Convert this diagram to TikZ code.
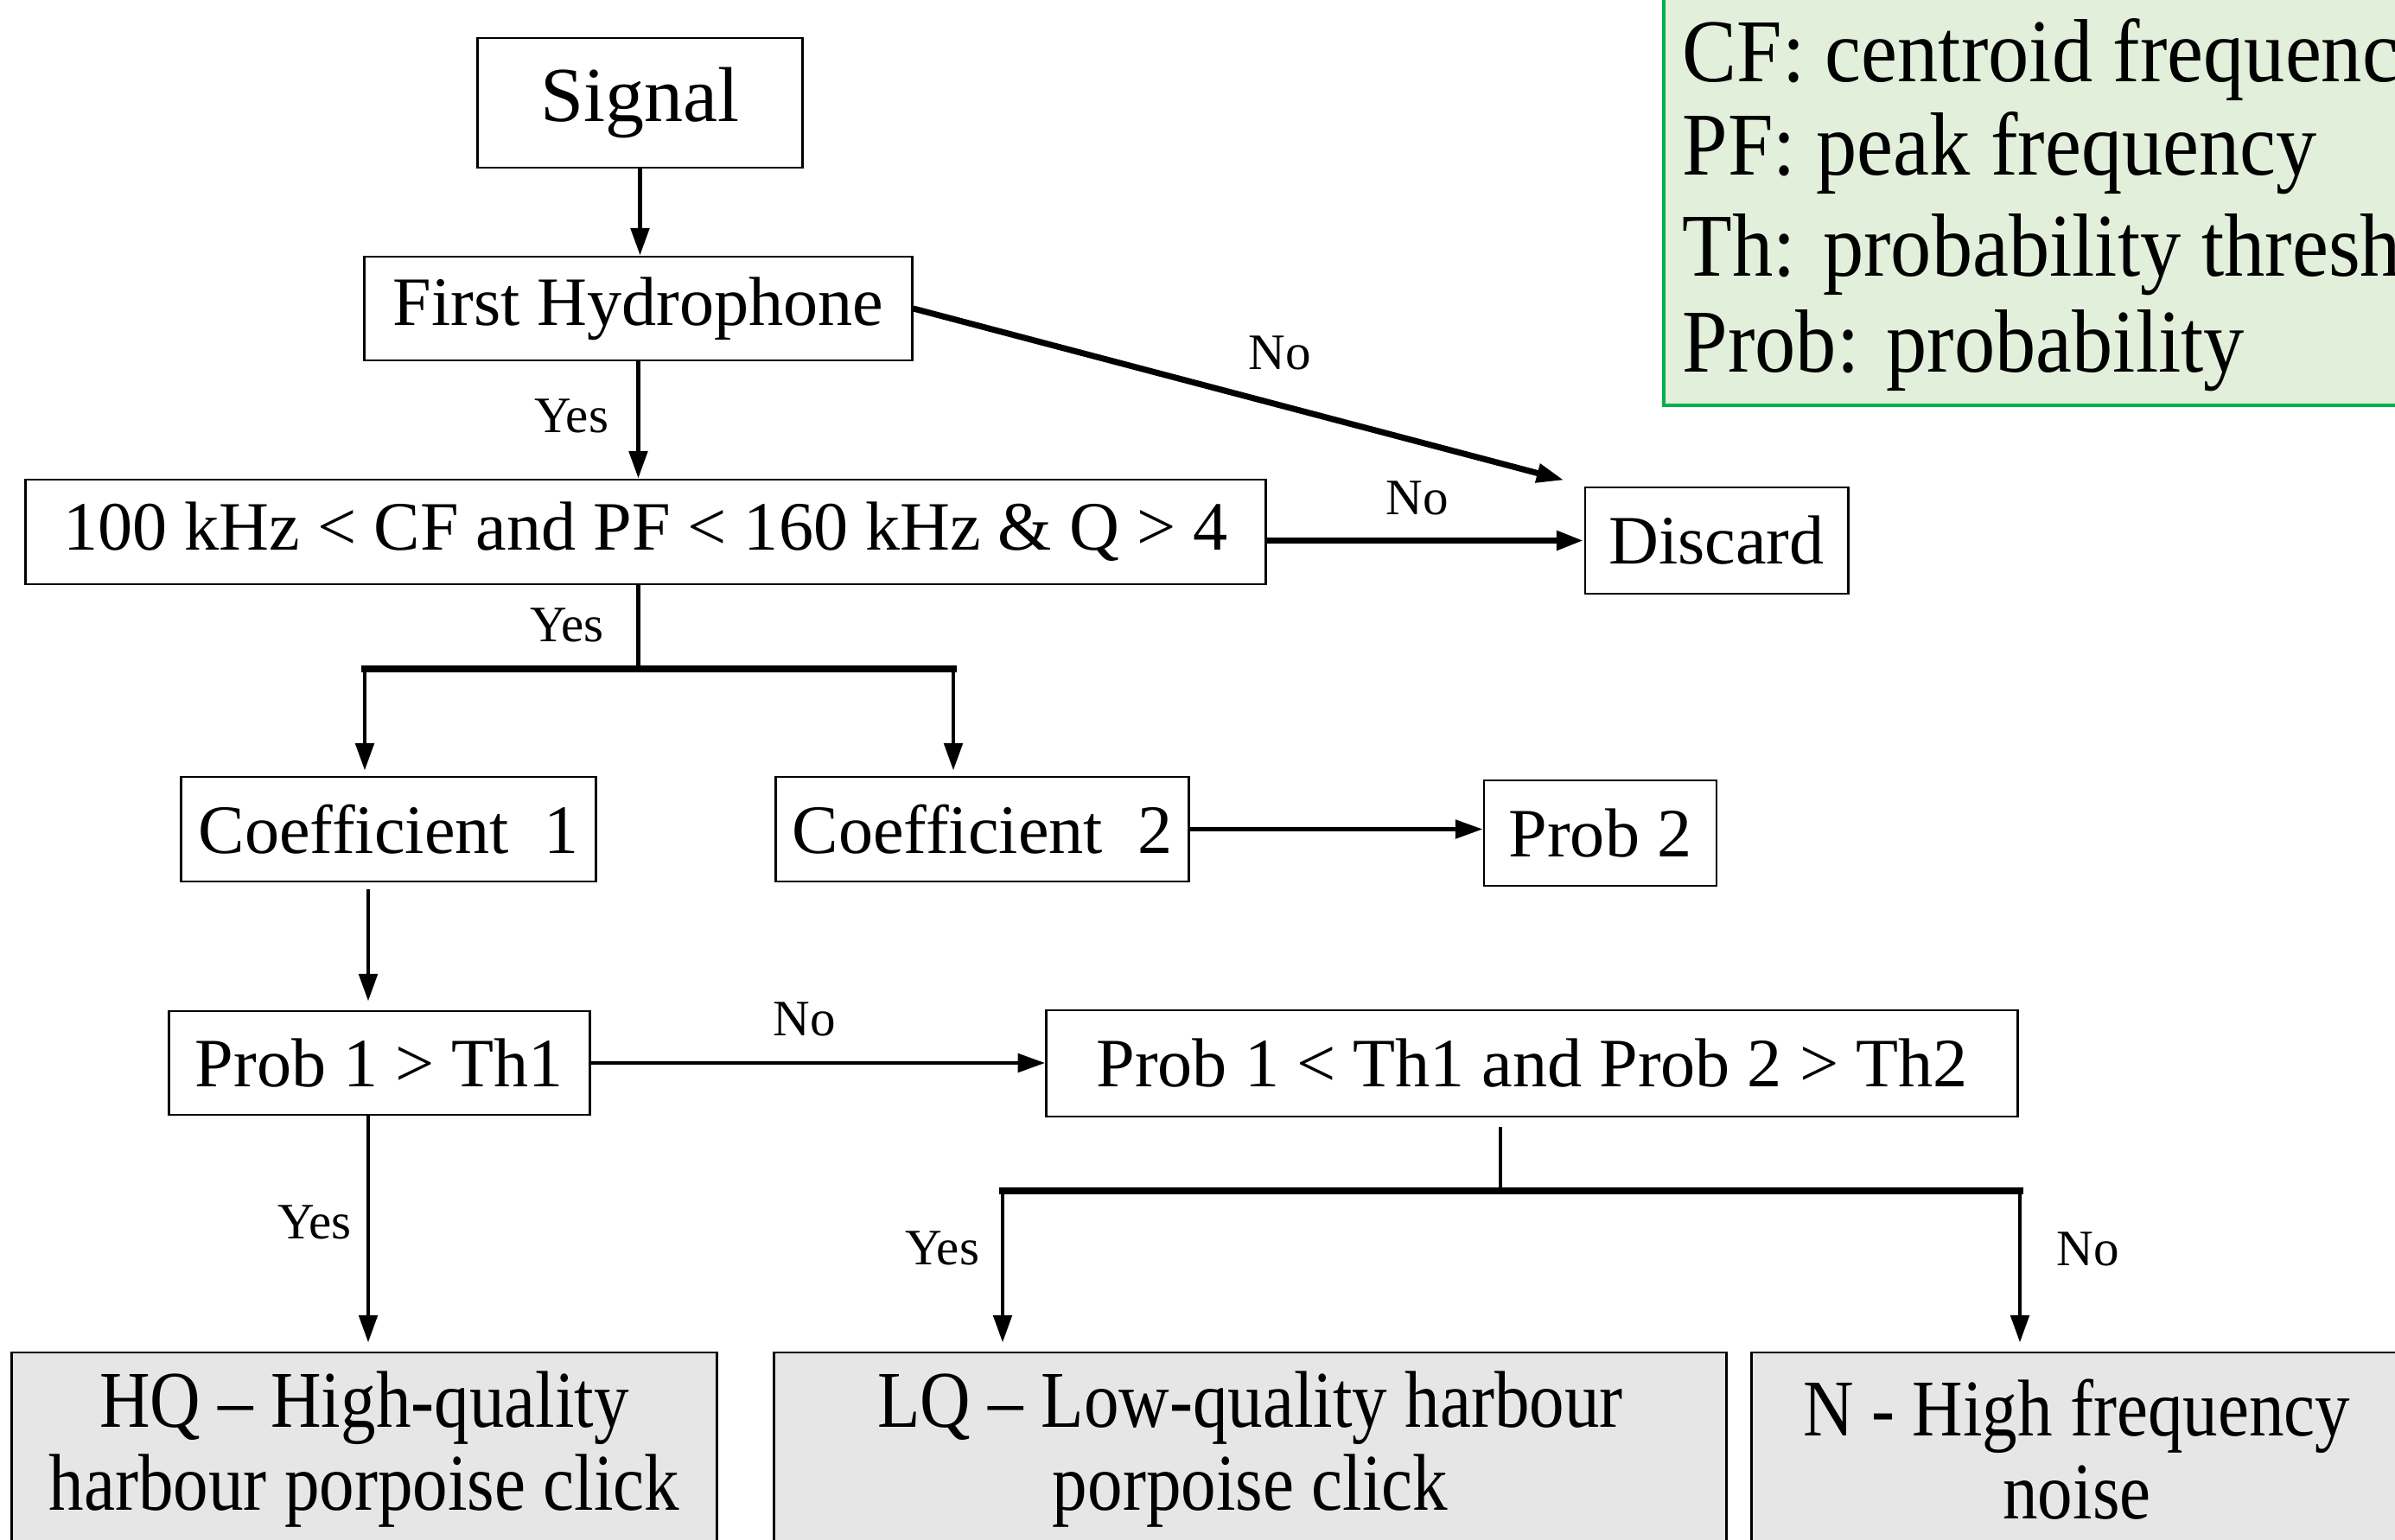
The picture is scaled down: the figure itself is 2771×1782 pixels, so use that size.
\documentclass[tikz,border=0pt]{standalone}
\usepackage{fontspec}
\setmainfont{Liberation Serif}
\newfontfamily\condA[FakeStretch=0.87]{Liberation Serif}
\newfontfamily\condB[FakeStretch=0.91]{Liberation Serif}
\usetikzlibrary{arrows.meta,calc}
\definecolor{legfill}{HTML}{E2EFDA}
\definecolor{legdraw}{HTML}{00B050}
\definecolor{outfill}{HTML}{E7E6E6}
\begin{document}
\begin{tikzpicture}[x=0.01cm,y=-0.01cm,
  box/.style={draw, line width=0.8pt, inner sep=0pt, font=\fontsize{22.8}{27}\selectfont},
  obox/.style={draw, fill=outfill, line width=0.8pt, inner sep=0pt, align=center, font=\condA\fontsize{26.5}{27.3}\selectfont},
  leg/.style={inner sep=0pt, anchor=base west, font=\condB\fontsize{29.5}{32}\selectfont},
  lbl/.style={inner sep=0pt, font=\fontsize{16.8}{20}\selectfont},
  arr/.style={line width=1.4pt, -{Triangle[length=9pt,width=6pt]}},
  ln/.style={line width=1.4pt},
  thk/.style={line width=2.2pt, line cap=rect}]
\useasboundingbox (0,0) rectangle (2771,1782);
\clip (0,0) rectangle (2771,1782);

% legend
\draw[legdraw, fill=legfill, line width=1pt] (1925,-20) rectangle (2820,469);
\node[leg] (l1) at (1946,95) {CF: centroid frequency};
\node[leg] (l2) at (1946,203) {PF: peak frequency};
\node[leg] (l3) at (1946,320) {Th: probability threshold};
\node[leg] (l4) at (1946,430) {Prob: probability};

% nodes
\node[box, minimum width=3.75cm, minimum height=1.5cm, font=\fontsize{25.6}{30}\selectfont] (sig) at (740.5,119) {Signal};
\node[box, minimum width=6.33cm, minimum height=1.2cm] (fh) at (738.5,357) {First Hydrophone};
\node[box, minimum width=14.34cm, minimum height=1.21cm] (cond) at (747,615.5) {100 kHz < CF and PF < 160 kHz \& Q > 4};
\node[box, minimum width=3.04cm, minimum height=1.23cm] (disc) at (1986,625.5) {Discard};
\node[box, minimum width=4.79cm, minimum height=1.21cm] (c1) at (449.5,959.5) {Coefficient\ \ 1};
\node[box, minimum width=4.77cm, minimum height=1.21cm] (c2) at (1136.5,959.5) {Coefficient\ \ 2};
\node[box, minimum width=2.69cm, minimum height=1.22cm] (p2) at (1851.5,964) {Prob 2};
\node[box, minimum width=4.86cm, minimum height=1.2cm] (p1) at (439,1230) {Prob 1 > Th1};
\node[box, minimum width=11.23cm, minimum height=1.23cm] (p12) at (1772.5,1230.5) {Prob 1 < Th1 and Prob 2 > Th2};
\node[obox, minimum width=8.15cm, minimum height=2.24cm] (hq) at (421.5,1677) {HQ – High-quality\\harbour porpoise click};
\node[obox, minimum width=11.01cm, minimum height=2.24cm] (lq) at (1446.5,1677) {LQ – Low-quality harbour\\porpoise click};
\node[obox, minimum width=7.52cm, minimum height=2.24cm] (nn) at (2403,1677) {N - High frequency\\noise};

% labels
\node[lbl] (y1) at (661,481) {Yes};
\node[lbl] (n1) at (1481,408) {No};
\node[lbl] (n2) at (1640,576) {No};
\node[lbl] (y2) at (656,723) {Yes};
\node[lbl] (n3) at (931,1179) {No};
\node[lbl] (y3) at (364,1414) {Yes};
\node[lbl] (y4) at (1090,1444) {Yes};
\node[lbl] (n4) at (2416,1445) {No};

% helper coordinates
\coordinate (brY) at (0,774);
\coordinate (c1x) at (422,0);
\coordinate (c2x) at (1103,0);
\coordinate (p1x) at (426,0);
\coordinate (brY2) at (0,1378);
\coordinate (stx) at (1736,0);
\coordinate (lqx) at (1160,0);
\coordinate (nx) at (2337,0);

% connectors
\draw[arr] (sig.south) -- (sig.south |- fh.north);
\draw[arr] (fh.south) -- (fh.south |- cond.north);
\draw[arr, line width=2pt] (fh.east) -- ($(disc.north west)+(-23,-7)$);
\draw[arr, line width=2.2pt] (cond.east |- disc.west) -- (disc.west);

\draw[ln] (fh.south |- cond.south) -- (fh.south |- brY);
\draw[thk] (c1x |- brY) -- (c2x |- brY);
\draw[arr] (c1x |- brY) -- ($(c1x |- c1.north)+(0,-6)$);
\draw[arr] (c2x |- brY) -- ($(c2x |- c2.north)+(0,-6)$);

\draw[arr] ($(p1x |- c1.south)+(0,8)$) -- ($(p1x |- p1.north)+(0,-10)$);
\draw[arr] (c2.east) -- (c2.east -| p2.west);
\draw[arr] (p1.east) -- (p1.east -| p12.west);
\draw[arr] (p1x |- p1.south) -- ($(p1x |- hq.north)+(0,-10)$);

\draw[ln] ($(stx |- p12.south)+(0,11)$) -- (stx |- brY2);
\draw[thk] (lqx |- brY2) -- (nx |- brY2);
\draw[arr] (lqx |- brY2) -- ($(lqx |- lq.north)+(0,-10)$);
\draw[arr] (nx |- brY2) -- ($(nx |- nn.north)+(0,-10)$);
\end{tikzpicture}
\end{document}
